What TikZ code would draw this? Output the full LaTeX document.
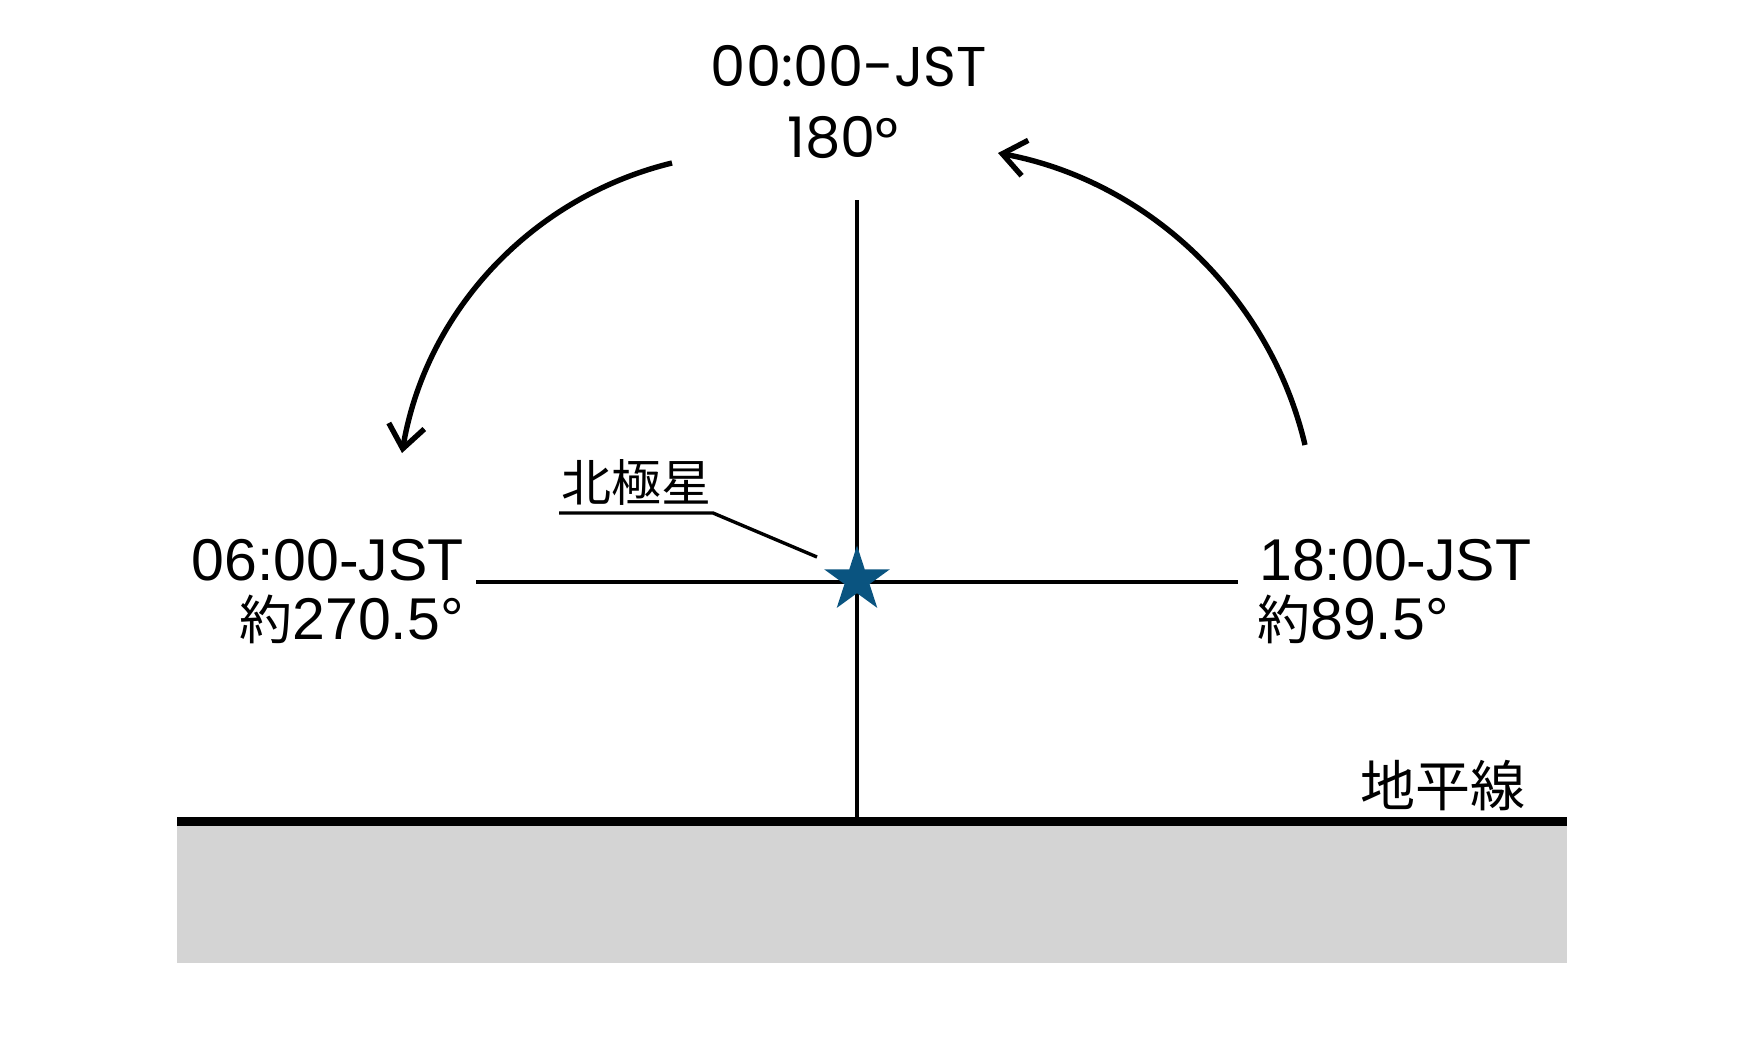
\documentclass[tikz,border=0pt]{standalone}
\usepackage{fontspec}
\setmainfont{Liberation Sans}
\newfontfamily\pop{Poppins}
\newfontfamily\jp{Noto Sans CJK JP}
\usetikzlibrary{shapes.geometric,arrows.meta}
\definecolor{starblue}{RGB}{10,84,128}
\definecolor{groundgray}{RGB}{212,212,212}
\newcommand{\yaku}{{\jp\fontsize{53}{58}\selectfont 約}}
\tikzset{
  thinline/.style={line width=3.4pt,black},
  arcarrow/.style={line width=5.4pt,black,-{Straight Barb[length=23pt,width=36pt,line width=5.4pt]}},
  toplabel/.style={inner sep=0pt,anchor=base,align=center,font=\pop\fontsize{56}{71}\selectfont},
  sidelabel/.style={inner sep=0pt,font=\fontsize{59}{59}\selectfont},
  jplabel/.style={inner sep=0pt,anchor=base west,font=\jp\fontsize{50}{55}\selectfont},
}
\begin{document}
\begin{tikzpicture}[x=1pt,y=-1pt]
\useasboundingbox (0,0) rectangle (1762,1042);
% ground
\fill[groundgray] (177,826) rectangle (1567,963);
\coordinate (gl) at (177,821.5);
\coordinate (gr) at (1567,821.5);
\draw[line width=9.5pt] (gl) -- (gr);
% axes
\coordinate (vtop) at (857,200);
\coordinate (vbot) at (857,817);
\coordinate (hl) at (476,582);
\coordinate (hr) at (1238,582);
\draw[thinline] (vtop) -- (vbot);
\draw[thinline] (hl) -- (hr);
\node[star,star points=5,star point ratio=2.618,minimum size=69pt,inner sep=0pt,fill=starblue] (polaris) at (857,580) {};
% labels
\node[toplabel] (t1) at (849,86) {00:00-JST};
\node[toplabel] (t2) at (843,157) {180°};
\node[sidelabel,align=right,anchor=base east] (lft) at (464,639) {06:00-JST\\\yaku270.5°};
\node[sidelabel,align=left,anchor=base west] (rgt) at (1259,639) {18:00-JST\\\hspace{-2pt}\yaku89.5°};
\node[jplabel] (pname) at (561,501) {北極星};
\node[jplabel,font=\jp\fontsize{55}{60}\selectfont] (horizon) at (1360,806) {地平線};
% leader
\coordinate (u1) at (559,513);
\coordinate (u2) at (713,513);
\coordinate (u3) at (817,557);
\draw[thinline] (u1) -- (u2) -- (u3);
% arrows
\coordinate (a1) at (672,163);
\coordinate (a2) at (402,453);
\coordinate (b1) at (1305,445);
\coordinate (b2) at (998,153);
\draw[arcarrow] (a1) .. controls (532,197) and (426,311) .. (a2);
\draw[arcarrow] (b1) .. controls (1270,296) and (1148,181) .. (b2);
\end{tikzpicture}
\end{document}
